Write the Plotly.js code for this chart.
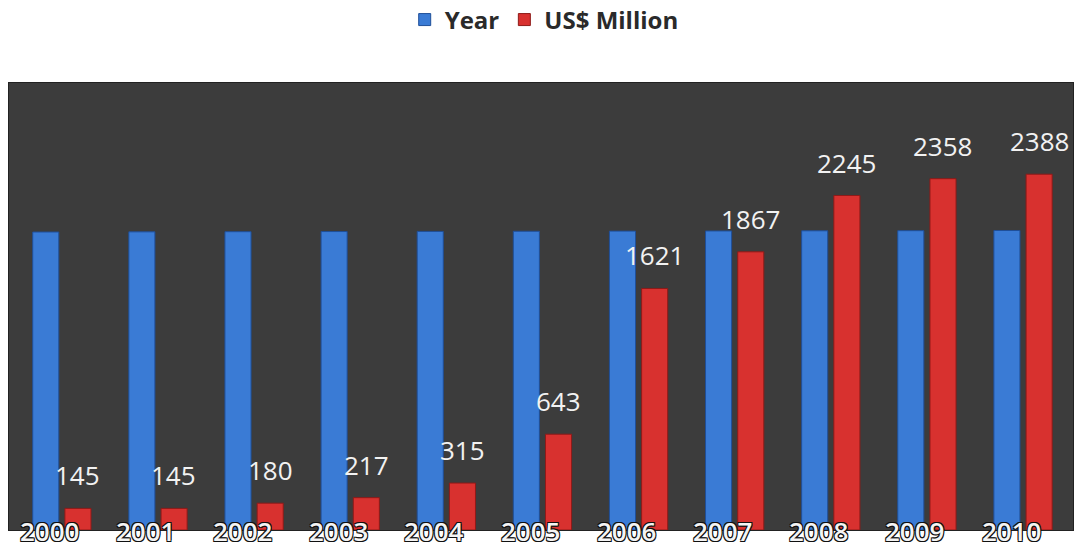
<!DOCTYPE html>
<html>
<head>
<meta charset="utf-8">
<script src="https://cdn.plot.ly/plotly-3.0.1.min.js"></script>
<style>html,body{margin:0;padding:0;background:#fff;}#chart{width:1077px;height:548px;}</style>
</head>
<body>
<div id="chart"></div>
<script>
const categories = ['2000','2001','2002','2003','2004','2005','2006','2007','2008','2009','2010'];
const yearValues = [2000,2001,2002,2003,2004,2005,2006,2007,2008,2009,2010];
const usdMillion = [145,145,180,217,315,643,1621,1867,2245,2358,2388];

const outline = '1px 1px 0 #111, -1px -1px 0 #111, 1px -1px 0 #111, -1px 1px 0 #111, 0 1px 0 #111, 0 -1px 0 #111';

const traces = [
  {
    type: 'bar', name: 'Year', x: categories, y: yearValues,
    marker: {color: '#3a7bd5', line: {color: '#1f4f99', width: 1}},
    hoverinfo: 'x+y'
  },
  {
    type: 'bar', name: 'US$ Million', x: categories, y: usdMillion,
    marker: {color: '#d8312f', line: {color: '#8e1a18', width: 1}},
    hoverinfo: 'x+y'
  }
];

const annotations = [];
for (let i = 0; i < categories.length; i++) {
  annotations.push({
    x: i, xref: 'x', y: usdMillion[i], yref: 'y',
    xshift: 16, yshift: 13, yanchor: 'bottom', xanchor: 'center',
    text: String(usdMillion[i]), showarrow: false,
    font: {family: 'Open Sans, sans-serif', size: 26, color: '#f2f2f2'}
  });
  annotations.push({
    x: i, xref: 'x', y: 0, yref: 'paper',
    xshift: -12, yshift: -1, yanchor: 'middle', xanchor: 'center',
    text: categories[i], showarrow: false,
    font: {family: 'Open Sans, sans-serif', size: 26, weight: 600, color: '#f4f4f4', shadow: outline}
  });
}

const layout = {
  width: 1077, height: 548,
  margin: {l: 9, r: 4, t: 83, b: 18, autoexpand: false},
  paper_bgcolor: '#ffffff',
  plot_bgcolor: '#3c3c3c',
  barmode: 'group',
  bargap: 0.33,
  bargroupgap: 0.19,
  showlegend: true,
  legend: {
    orientation: 'h', x: 0.503, xanchor: 'center', y: 1.141, yanchor: 'middle',
    font: {family: 'Open Sans, sans-serif', size: 24, weight: 'bold', color: '#2a2a2a'},
    itemwidth: 30, traceorder: 'normal'
  },
  xaxis: {
    type: 'category', range: [-0.55, 10.52],
    showticklabels: false, showgrid: false, zeroline: false,
    showline: true, linecolor: '#222', linewidth: 1, mirror: true
  },
  yaxis: {
    range: [0, 3000], showticklabels: false, showgrid: false, zeroline: false,
    showline: true, linecolor: '#222', linewidth: 1, mirror: true
  },
  annotations: annotations
};

Plotly.newPlot('chart', traces, layout, {displayModeBar: false});
</script>
</body>
</html>
